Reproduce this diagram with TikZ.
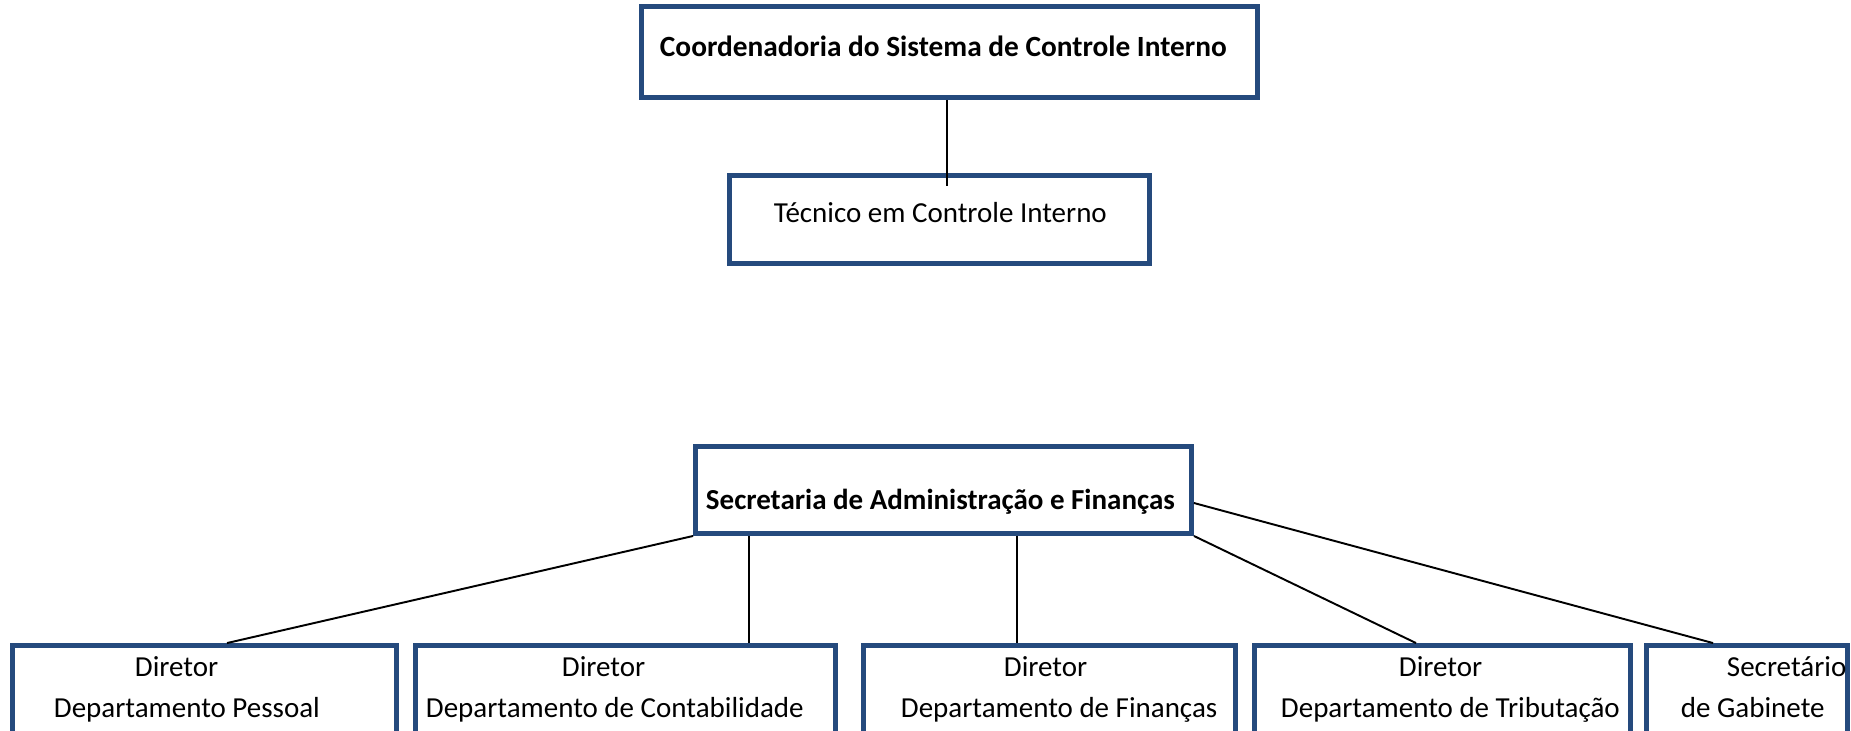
\documentclass[tikz,border=0pt]{standalone}
\usepackage{fontspec}
\setmainfont{Carlito}
\usetikzlibrary{positioning}
\definecolor{boxblue}{RGB}{37,74,125}

\begin{document}
\begin{tikzpicture}[x=0.02cm,y=-0.02cm,line width=1.1pt,font=\fontsize{16.5}{23}\selectfont,
  box/.style={draw=boxblue,line width=2.8pt,rectangle,inner sep=0pt},
  caption/.style={anchor=base west,inner sep=0pt}]

  \clip (0,0) rectangle (1851,730);

  % boxes
  \node[box,minimum width=12.32cm,minimum height=1.82cm] (coord) at (949.5,52) {};
  \node[box,minimum width=8.4cm,minimum height=1.76cm] (tec) at (939.5,219.5) {};
  \node[box,minimum width=9.92cm,minimum height=1.74cm] (sec) at (943.5,490) {};
  \node[box,minimum width=7.68cm,minimum height=2.4cm] (pessoal) at (204.5,705.5) {};
  \node[box,minimum width=8.4cm,minimum height=2.4cm] (contab) at (625.5,705.5) {};
  \node[box,minimum width=7.44cm,minimum height=2.4cm] (financas) at (1049.5,705.5) {};
  \node[box,minimum width=7.52cm,minimum height=2.4cm] (tributacao) at (1442.5,705.5) {};
  \node[box,minimum width=4.02cm,minimum height=2.4cm] (gabinete) at (1747,705.5) {};

  % texts
  \node[caption] (coordText) at (659,56) {\fontsize{16.7}{23}\selectfont\bfseries Coordenadoria do Sistema de Controle Interno};
  \node[caption] (tecText) at (773,222) {Técnico em Controle Interno};
  \node[caption] (secText) at (705,509) {\bfseries Secretaria de Administração e Finanças};
  \node[caption] (pessoalA) at (134,676) {Diretor};
  \node[caption] (pessoalB) at (53,717) {Departamento Pessoal};
  \node[caption] (contabA) at (561,676) {Diretor};
  \node[caption] (contabB) at (425,717) {Departamento de Contabilidade};
  \node[caption] (financasA) at (1003,676) {Diretor};
  \node[caption] (financasB) at (900,717) {Departamento de Finanças};
  \node[caption] (tributacaoA) at (1398,676) {Diretor};
  \node[caption] (tributacaoB) at (1280,717) {Departamento de Tributação};
  \node[caption] (gabineteA) at (1726,676) {Secretário};
  \node[caption] (gabineteB) at (1680,717) {de Gabinete};

  % connectors
  \coordinate (tecTop) at (947,186);
  \draw (coord.south -| tecTop) -- (tecTop);
  \path[draw]
    (sec.south west) edge ([xshift=0.45cm]pessoal.north)
    ([xshift=2.47cm]contab.north |- sec.south) edge ([xshift=2.47cm]contab.north)
    ([xshift=-0.65cm]financas.north |- sec.south) edge ([xshift=-0.65cm]financas.north)
    (sec.south east) edge ([xshift=-0.53cm]tributacao.north)
    ([yshift=-0.26cm]sec.east) edge ([xshift=-0.68cm]gabinete.north);

\end{tikzpicture}
\end{document}
